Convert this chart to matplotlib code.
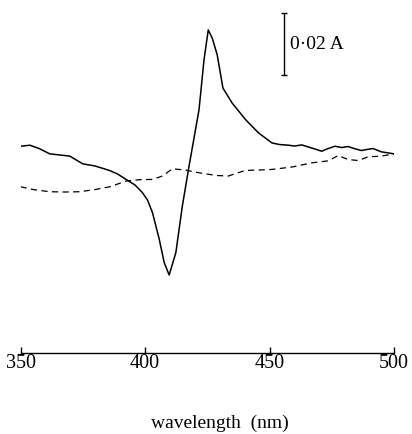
import numpy as np
import matplotlib.pyplot as plt

# difference spectra, values in units of 0.001 A (arbitrary zero)
wl_solid = [350, 353.8, 357.5, 361.7, 366, 369.8, 375, 380, 385.7, 389, 392.4, 396, 399,
            401, 403, 405.7, 407.7, 409.7, 412.4, 415, 417.7, 421.7, 423.7, 425.4, 427,
            429, 431.3, 435, 440.4, 445.6, 451, 454, 457.7, 460, 463, 467, 471, 473,
            476.3, 479, 481.6, 484, 486.9, 489, 491.6, 494.9, 500]
py_solid = [146.2, 145.2, 148.5, 153.8, 155, 156.1, 163.8, 166, 170.4, 174, 179.4, 185, 192.7,
            200, 212.6, 239, 262.5, 275, 252.5, 206, 166, 109.6, 59.8, 29.9, 38,
            54.8, 88, 103, 119.6, 132.9, 142.9, 144.5, 145.2, 146, 144.9, 148, 151.2, 149,
            146.2, 147.5, 146.5, 148.5, 150.5, 149.5, 148.5, 151.8, 153.8]

wl_dash = [350, 355, 361.7, 368, 373.8, 380, 386, 392.4, 398, 403, 407, 411, 416.2, 420,
           424.2, 429, 433.5, 437, 440.4, 446, 451, 459, 467, 473.6, 477.6, 481.6,
           485.6, 489.6, 494.9, 500]
py_dash = [186.7, 189.5, 191.7, 192, 191.7, 189.5, 186.7, 181, 179.6, 179.4, 176, 168.8, 170, 172,
           173.8, 175.5, 176, 173, 170.4, 170, 169.4, 167, 162.8, 160.8, 155.5, 159.5,
           160.5, 156.8, 156.1, 153.8]

solid = [(154 - p) / 3.1 for p in py_solid]
dashed = [(154 - p) / 3.1 for p in py_dash]

plt.rcParams['font.family'] = ['Liberation Serif', 'DejaVu Serif']

fig = plt.figure(figsize=(4.12, 4.34), dpi=100)
ax = fig.add_axes([20.5 / 412, 81 / 434, 373.5 / 412, 353 / 434])

ax.plot(wl_solid, solid, color='black', lw=1.1)
ax.plot(wl_dash, dashed, color='black', lw=0.9, linestyle=(0, (5, 3.5)))

# scale bar 0.02 A
ax.errorbar([456], [35.5], yerr=[10], color='black', lw=1, capsize=2.2, capthick=1)
ax.text(458.3, 35.5, '0·02\u2009A', fontsize=14, va='center', ha='left')

ax.set_xlim(350, 500)
ax.set_ylim(-64.2, 49.7)
ax.set_xticks([350, 400, 450, 500])
ax.tick_params(axis='x', direction='in', length=4, width=1, labelsize=14.5, pad=1)
ax.set_yticks([])
for s in ['left', 'right', 'top']:
    ax.spines[s].set_visible(False)
ax.spines['bottom'].set_linewidth(1)

fig.text(220 / 412, 1 - 423 / 434, 'wavelength  (nm)', fontsize=14, ha='center', va='center')

fig.savefig('out.png', dpi=100)
